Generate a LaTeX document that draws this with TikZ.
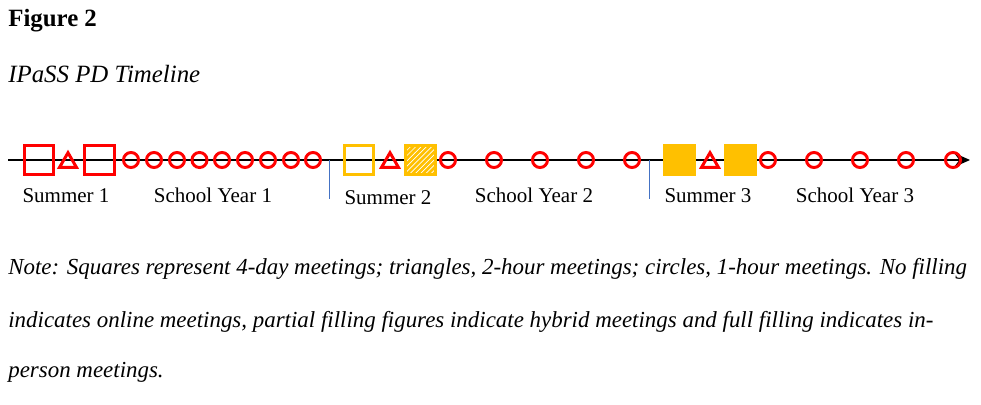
\documentclass[tikz,border=0pt]{standalone}
\usepackage{fontspec}
\setmainfont{Liberation Serif}
\usetikzlibrary{positioning,arrows.meta,shapes.geometric,patterns}
\definecolor{gold}{RGB}{255,192,0}
\definecolor{tickblue}{RGB}{68,114,196}
\begin{document}
\begin{tikzpicture}[x=0.5714pt,y=-0.5714pt,font=\fontsize{12}{14}\selectfont,
sq/.style={draw,line width=1.7pt,minimum size=17.1pt,inner sep=0pt},
tri/.style={draw=red,line width=1.7pt,regular polygon,regular polygon sides=3,minimum size=11.2pt,inner sep=0pt},
cir/.style={draw=red,line width=1.7pt,circle,minimum size=8.6pt,inner sep=0pt},
lab/.style={anchor=base},
txt/.style={anchor=base west,inner sep=0pt},
note/.style={txt,font=\fontsize{13.1}{15}\selectfont\itshape},
tk/.style={draw=tickblue,line width=0.5pt}]
\useasboundingbox (0,0) rectangle (981,405);
\node[txt,font=\fontsize{14.2}{17}\selectfont\bfseries](fig) at (8,27){Figure 2};
\node[txt,font=\fontsize{14.2}{17}\selectfont\itshape](ttl) at (8,83){IPaSS PD Timeline};
% axis
\coordinate (tl) at (8,160);
\coordinate (tr) at (970,160);
\draw[line width=1.15pt,-{Stealth[length=9pt,width=8pt]}](tl)--(tr);
% summer 1
\node[sq,draw=red](s1a) at (39,160){};
\node[tri](t1) at (68,162.5){};
\node[sq,draw=red](s1b) at (99.5,160){};
\foreach \x [count=\i] in {131,154,177,199.5,222,245,268,291,313}\node[cir](c1\i) at (\x,160){};
% summer 2
\node[sq,draw=gold](s2a) at (359,160){};
\node[tri](t2) at (390,162.5){};
\node[sq,draw=gold,preaction={fill=gold},pattern=north east lines,pattern color=white](s2b) at (420.5,160){};
\foreach \x [count=\i] in {448,494,540,586,632}\node[cir](c2\i) at (\x,160){};
% summer 3
\node[sq,draw=gold,fill=gold](s3a) at (679.5,160){};
\node[tri](t3) at (710,162.5){};
\node[sq,draw=gold,fill=gold](s3b) at (740.5,160){};
\foreach \x [count=\i] in {768,814,860,906,953}\node[cir](c3\i) at (\x,160){};
% year ticks
\coordinate (k1) at (329,160);
\coordinate (k1e) at (329,199);
\coordinate (k2) at (649,160);
\coordinate (k2e) at (649,199);
\draw[tk](k1)--(k1e);
\draw[tk](k2)--(k2e);
% labels
\node[lab](su1) at (66,203){Summer 1};
\node[lab](sy1) at (213,203){School Year 1};
\node[lab](su2) at (388,205){Summer 2};
\node[lab](sy2) at (534,203){School Year 2};
\node[lab](su3) at (708,203){Summer 3};
\node[lab](sy3) at (855,203){School Year 3};
% note
\node[note](n1) at (8,275){Note: Squares represent 4-day meetings; triangles, 2-hour meetings; circles, 1-hour meetings. No filling};
\node[note](n2) at (8,327){indicates online meetings, partial filling figures indicate hybrid meetings and full filling indicates in-};
\node[note](n3) at (8,378){person meetings.};
\end{tikzpicture}
\end{document}
